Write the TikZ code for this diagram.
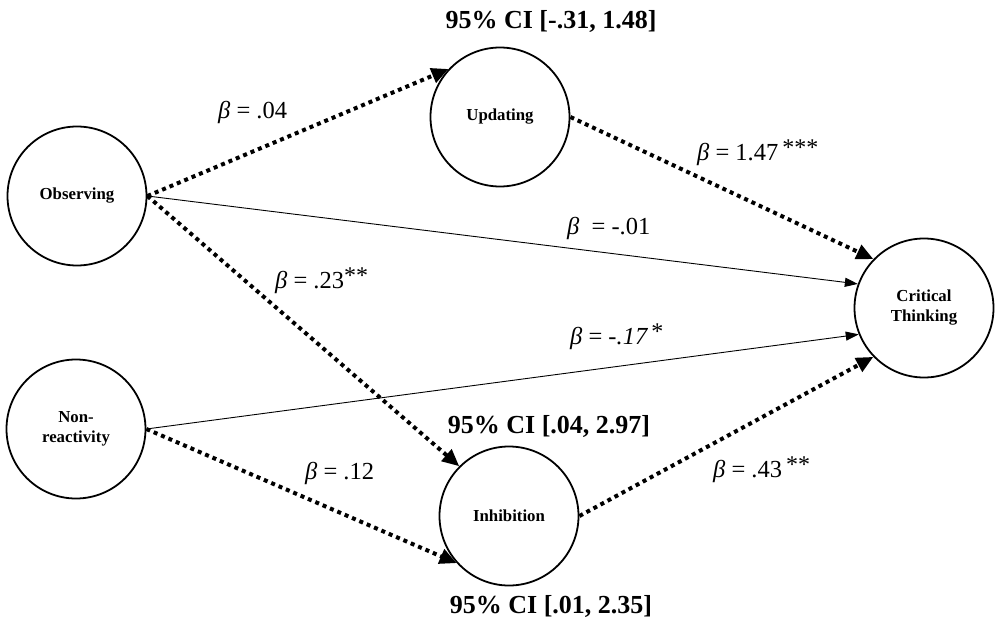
\documentclass[tikz,border=0pt]{standalone}
\usepackage{fontspec}
\setmainfont{Liberation Serif}
\usetikzlibrary{arrows.meta}
\newcommand{\sigstars}[1]{\raisebox{5pt}{\fontsize{24}{24}\selectfont #1}}
\begin{document}
\begin{tikzpicture}[x=1pt,y=-1pt,
  var/.style={circle,draw,line width=1.8pt,minimum size=139pt,inner sep=0pt,
    font=\fontsize{16.8}{20}\selectfont\bfseries,align=center},
  dotarrow/.style={line width=4pt,dash pattern=on 4pt off 4pt,
    -{Triangle[length=17pt,width=15pt]}},
  thinarrow/.style={line width=0.9pt,-{Triangle[length=13pt,width=9pt]}},
  coef/.style={anchor=west,inner sep=0pt,font=\fontsize{24.5}{28}\selectfont},
  ci/.style={inner sep=0pt,font=\fontsize{26}{30}\selectfont\bfseries}]
\useasboundingbox (0,0) rectangle (1000,623);
\node[var] (obs) at (77,196) {Observing};
\node[var] (non) at (76,429) {Non-\\reactivity};
\node[var] (upd) at (500,117) {Updating};
\node[var] (inh) at (509,516) {Inhibition};
\node[var] (ct) at (924,308) {Critical\\Thinking};

\draw[dotarrow] (obs.east) -- (upd.137);
\draw[dotarrow] (obs.east) -- (inh.135);
\draw[thinarrow] (obs.east) -- (ct.160);
\draw[thinarrow] (non.east) -- (ct.202);
\draw[dotarrow] (non.east) -- (inh.222);
\draw[dotarrow] (upd.east) -- (ct.136);
\draw[dotarrow] (inh.east) -- (ct.224);

\node[ci] (ci1) at (551,21) {95\% CI [-.31, 1.48]};
\node[ci] (ci2) at (549,426) {95\% CI [.04, 2.97]};
\node[ci] (ci3) at (551,606) {95\% CI [.01, 2.35]};

\node[coef] (b1) at (218,112) {{\itshape β} = .04};
\node[coef] (b2) at (697,153) {{\itshape β} = 1.47\,\sigstars{***}};
\node[coef] (b3) at (567,228) {{\itshape β}\ \ = -.01};
\node[coef] (b4) at (275,281) {{\itshape β} = .23\sigstars{**}};
\node[coef] (b5) at (570,337) {{\itshape β} = {\itshape -.17}\,\sigstars{*}};
\node[coef] (b6) at (305,473) {{\itshape β} = .12};
\node[coef] (b7) at (713,470) {{\itshape β} = .43\,\sigstars{**}};
\end{tikzpicture}
\end{document}
